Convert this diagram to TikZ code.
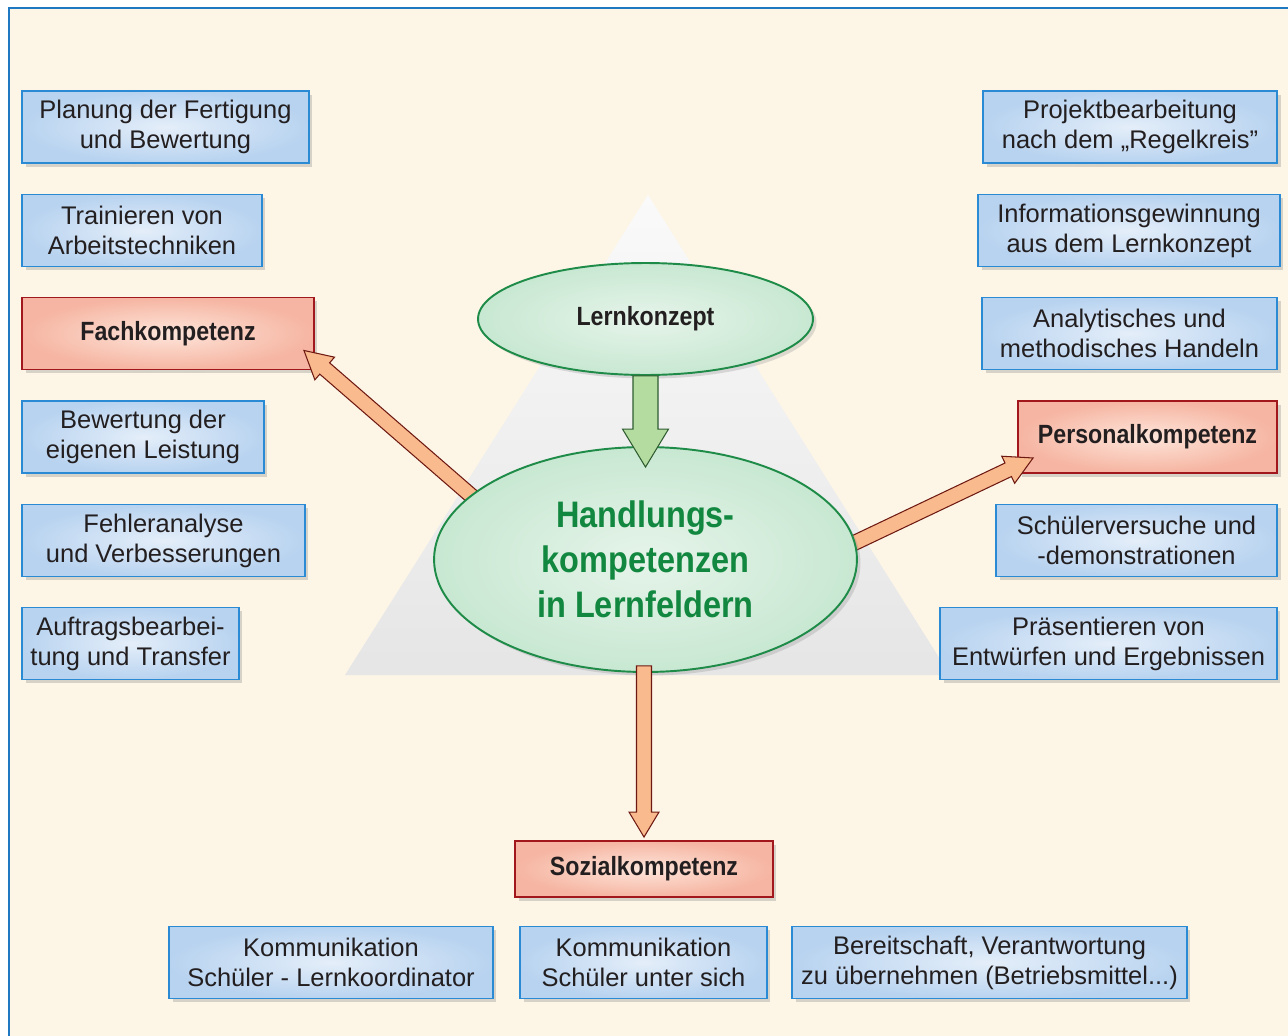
\documentclass[tikz,border=0pt]{standalone}
\usepackage{fontspec}
\setmainfont{Liberation Sans}
\newfontfamily\condfont[FakeStretch=0.88]{Liberation Sans}
\usepackage{tikz}
\usetikzlibrary{calc,shadows,shapes.geometric}

\definecolor{bgcream}{HTML}{FDF6E7}
\definecolor{frameblue}{HTML}{1F78C1}
\definecolor{textdark}{HTML}{231F20}
\definecolor{boxline}{HTML}{2A8BD4}
\definecolor{boxin}{HTML}{E4EEF9}
\definecolor{boxout}{HTML}{B8D3F0}
\definecolor{redline}{HTML}{A2171C}
\definecolor{redin}{HTML}{FDE5DA}
\definecolor{redout}{HTML}{F6B5A2}
\definecolor{greenline}{HTML}{1E8C48}
\definecolor{greenin}{HTML}{E6F4EA}
\definecolor{greenout}{HTML}{C8E8D2}
\definecolor{greentext}{HTML}{12873F}
\definecolor{arrline}{HTML}{6E1A12}
\definecolor{arrfill}{HTML}{F9BA8E}
\definecolor{garrline}{HTML}{2F5C30}
\definecolor{garrfill}{HTML}{B4DCA0}

% fat block arrow: [style]{from}{to}{shaft half}{head half}{head length}
\newcommand{\fatarrow}[6][]{%
  \draw[#1] let \p1=(#2), \p2=(#3),
      \n1={atan2(\y2-\y1,\x2-\x1)}, \n2={veclen(\x2-\x1,\y2-\y1)} in
    [shift={(\p1)}, rotate=\n1]
    (0pt,-#4) -- (\n2-#6,-#4) -- (\n2-#6,-#5) -- (\n2+0pt,0pt)
    -- (\n2-#6,#5) -- (\n2-#6,#4) -- (0pt,#4) -- cycle;}

\begin{document}
\begin{tikzpicture}[x=0.02cm,y=-0.02cm,
  infobox/.style={rectangle,draw=boxline,line width=1.1pt,inner color=boxin,outer color=boxout,
    drop shadow={opacity=0.3,shadow xshift=2pt,shadow yshift=-2pt},
    minimum height=1.44cm,inner sep=0pt,align=center,text=textdark,
    font=\fontsize{14.5}{17}\selectfont},
  compbox/.style={infobox,draw=redline,inner color=redin,outer color=redout,
    font=\condfont\bfseries\fontsize{15}{18}\selectfont},
  topic/.style={ellipse,draw=greenline,line width=1.1pt,inner color=greenin,outer color=greenout,
    drop shadow={opacity=0.25,shadow xshift=2pt,shadow yshift=-2pt},
    inner sep=0pt,align=center,text=textdark},
  orangearr/.style={draw=arrline,line width=0.6pt,fill=arrfill},
  greenarr/.style={draw=garrline,line width=0.6pt,fill=garrfill}]

  % Page and frame
  \useasboundingbox (0,0) rectangle (1288,1035);
  \fill[white] (0,0) rectangle (1288,1035);
  \clip (0,0) rectangle (1288,1035);
  \fill[bgcream] (9,8) rectangle (1300,1050);
  \draw[frameblue,line width=1.2pt] (9,1050) -- (9,8) -- (1300,8);

  % Pyramid in the background
  \shade[top color=gray!4,bottom color=gray!20] (648,195) -- (950,675) -- (345,675) -- cycle;

  % Left column
  \node[infobox,minimum width=5.74cm] (plan) at (165.5,127) {Planung der Fertigung\\und Bewertung};
  \node[infobox,minimum width=4.80cm] (train) at (142,230.5) {Trainieren von\\Arbeitstechniken};
  \node[compbox,minimum width=5.84cm] (fach) at (168,333.5) {Fachkompetenz};
  \node[infobox,minimum width=4.84cm] (bewert) at (143,437) {Bewertung der\\eigenen Leistung};
  \node[infobox,minimum width=5.66cm] (fehler) at (163.5,540.5) {Fehleranalyse\\und Verbesserungen};
  \node[infobox,minimum width=4.34cm] (auftrag) at (130.5,643.5) {Auftragsbearbei-\\tung und Transfer};

  % Right column
  \node[infobox,minimum width=5.88cm] (projekt) at (1130,127) {Projektbearbeitung\\nach dem „Regelkreis”};
  \node[infobox,minimum width=6.04cm] (info) at (1129,230.5) {Informationsgewinnung\\aus dem Lernkonzept};
  \node[infobox,minimum width=5.90cm] (analyt) at (1129.5,333.5) {Analytisches und\\methodisches Handeln};
  \node[compbox,minimum width=5.18cm] (pers) at (1147.5,437) {Personalkompetenz};
  \node[infobox,minimum width=5.62cm] (versuch) at (1136.5,540.5) {Schülerversuche und\\-demonstrationen};
  \node[infobox,minimum width=6.74cm] (praes) at (1108.5,643.5) {Präsentieren von\\Entwürfen und Ergebnissen};

  % Bottom row
  \node[compbox,minimum width=5.16cm,minimum height=1.12cm] (sozial) at (644,869) {Sozialkompetenz};
  \node[infobox,minimum width=6.48cm] (kommlk) at (331,962.5) {Kommunikation\\Schüler - Lernkoordinator};
  \node[infobox,minimum width=4.94cm] (kommsch) at (643.5,962.5) {Kommunikation\\Schüler unter sich};
  \node[infobox,minimum width=7.90cm] (bereit) at (989.5,962.5) {Bereitschaft, Verantwortung\\zu übernehmen (Betriebsmittel...)};

  % Side arrows (behind the centre)
  \coordinate (handl) at (645.5,559.5);
  \coordinate (fachtip) at ($(fach.south east)+(-11,-20)$);
  \coordinate (perstip) at ($(pers.south west)+(16,-16)$);
  \fatarrow[orangearr]{$(handl)+(-125,-21)$}{fachtip}{0.15cm}{0.3cm}{0.55cm}
  \fatarrow[orangearr]{$(handl)+(155,9)$}{perstip}{0.15cm}{0.3cm}{0.55cm}

  % Centre
  \node[topic,minimum width=6.7cm,minimum height=2.24cm,font=\condfont\bfseries\fontsize{15}{18}\selectfont]
    (lern) at (645.5,319) {Lernkonzept};
  \node[topic,minimum width=8.46cm,minimum height=4.5cm,text=greentext,
    font=\condfont\bfseries\fontsize{21}{25.5}\selectfont]
    (handl) at (645.5,559.5) {Handlungs-\\kompetenzen\\in Lernfeldern};

  % Arrows on top
  \fatarrow[greenarr]{lern.south}{$(handl.north)+(0,21)$}{0.25cm}{0.46cm}{0.76cm}
  \fatarrow[orangearr]{$(handl.south -| sozial.north)+(0,-7)$}{$(sozial.north)+(0,-3)$}{0.15cm}{0.3cm}{0.5cm}
\end{tikzpicture}
\end{document}
